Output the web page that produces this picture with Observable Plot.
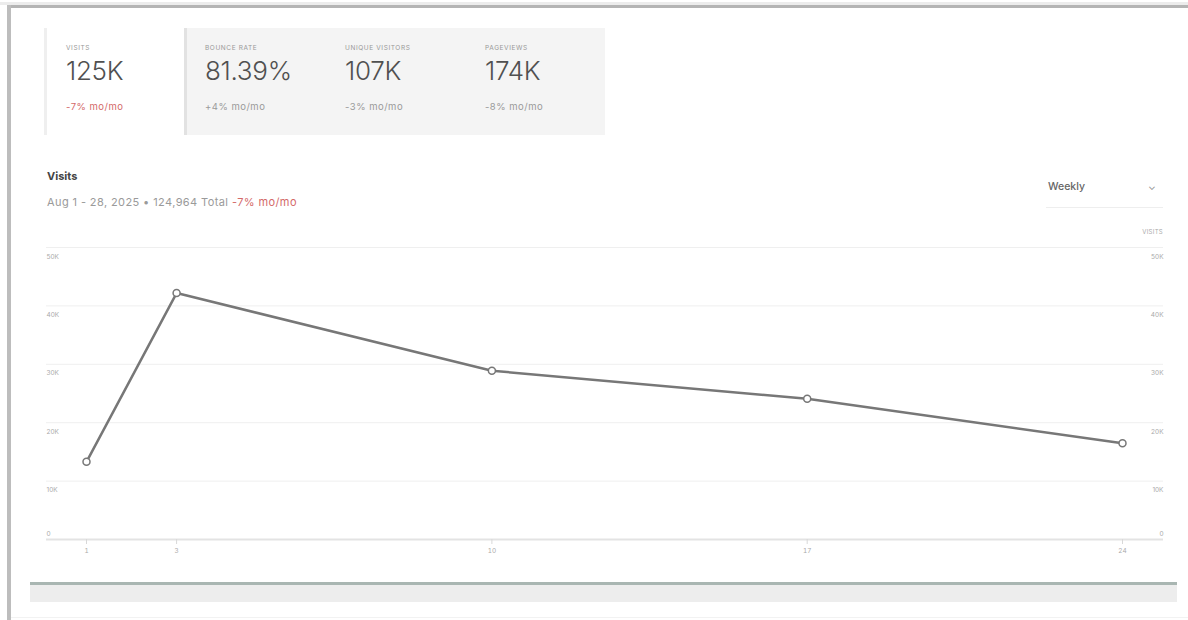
<!DOCTYPE html>
<html>
<head>
<meta charset="utf-8">
<script src="https://cdn.jsdelivr.net/npm/d3@7"></script>
<script src="https://cdn.jsdelivr.net/npm/@observablehq/plot@0.6"></script>
<style>
  html, body { margin: 0; padding: 0; background: #fff; }
  body { width: 1188px; height: 620px; position: relative; overflow: hidden; font-family: Inter, "Noto Sans", sans-serif; color: #555; }
  .frame-top { position: absolute; left: 0; top: 2px; width: 1188px; height: 3px; background: #ececec; }
  .frame-top2 { position: absolute; left: 7px; top: 5px; width: 1181px; height: 3px; background: #b4b4b4; }
  .frame-left { position: absolute; left: 7px; top: 5px; width: 4px; height: 615px; background: #bdbdbd; }
  .cards { position: absolute; left: 44px; top: 28px; height: 107px; display: flex; }
  .card-main { width: 140px; flex-shrink: 0; border-left: 3px solid #efefef; background: #fff; padding-left: 19px; box-sizing: border-box; }
  .card-rest { width: 421px; flex-shrink: 0; background: #f4f4f4; border-left: 3px solid #e2e2e2; display: flex; box-sizing: border-box; padding-left: 18px; }
  .stat { width: 140px; flex-shrink: 0; }
  .stat .lbl { margin-top: 16px; font-size: 6.5px; letter-spacing: 0.6px; color: #999; text-transform: uppercase; height: 8px; line-height: 8px; }
  .stat .val { margin-top: 5px; font-size: 26px; font-weight: 300; color: #505050; line-height: 28px; letter-spacing: -0.3px; }
  .stat .chg { margin-top: 16px; font-size: 9.5px; color: #9a9a9a; line-height: 11px; letter-spacing: 0.5px; }
  .stat .chg.neg { color: #d46a6a; }
  .title { position: absolute; left: 47px; top: 169px; font-size: 11px; font-weight: 700; color: #444; }
  .subtitle { position: absolute; left: 47px; top: 195px; font-size: 11px; color: #9a9a9a; letter-spacing: 0.4px; }
  .subtitle .neg { color: #d46a6a; }
  .period { position: absolute; left: 1048px; top: 180px; font-size: 10.5px; font-weight: 500; color: #666; }
  .chev { position: absolute; left: 1148px; top: 180px; font-size: 10px; color: #888; }
  .period-line { position: absolute; left: 1046px; top: 207px; width: 117px; height: 1px; background: #eee; }
  .ylabel { position: absolute; left: 1125px; width: 38px; text-align: right; top: 228px; font-size: 6px; color: #aaa; letter-spacing: 0.3px; }
  #chart { position: absolute; left: 0; top: 220px; }
  .brush-top { position: absolute; left: 30px; top: 582px; width: 1147px; height: 3px; background: #a9b6b2; }
  .brush-body { position: absolute; left: 30px; top: 585px; width: 1147px; height: 17px; background: #ededed; }
  .foot-line { position: absolute; left: 11px; top: 617px; width: 1177px; height: 1px; background: #f2f2f2; }
</style>
</head>
<body>
<div class="frame-top"></div>
<div class="frame-top2"></div>
<div class="frame-left"></div>

<div class="cards" id="cards"></div>

<div class="title">Visits</div>
<div class="subtitle">Aug 1 - 28, 2025 • 124,964 Total <span class="neg">-7% mo/mo</span></div>
<div class="period">Weekly</div>
<div class="chev">&#8964;</div>
<div class="period-line"></div>
<div class="ylabel">VISITS</div>

<div id="chart"></div>

<div class="brush-top"></div>
<div class="brush-body"></div>
<div class="foot-line"></div>

<script>
// Summary metrics
const statLabels = ["Visits", "Bounce rate", "Unique visitors", "Pageviews"];
const statValues = ["125K", "81.39%", "107K", "174K"];
const statChanges = ["-7% mo/mo", "+4% mo/mo", "-3% mo/mo", "-8% mo/mo"];

// Weekly visits (day of August)
const days = [1, 3, 10, 17, 24];
const visits = [13300, 42200, 28900, 24100, 16500];

// Axis ticks
const yTicks = [0, 10000, 20000, 30000, 40000, 50000];
const xTicks = [1, 3, 10, 17, 24];

// Metric cards
const cards = document.getElementById("cards");
const main = document.createElement("div");
main.className = "card-main";
const rest = document.createElement("div");
rest.className = "card-rest";
statLabels.forEach((label, i) => {
  const s = document.createElement("div");
  s.className = "stat";
  const neg = i === 0;
  s.innerHTML = `<div class="lbl">${label}</div><div class="val">${statValues[i]}</div><div class="chg${neg ? " neg" : ""}">${statChanges[i]}</div>`;
  (i === 0 ? main : rest).appendChild(s);
});
cards.appendChild(main);
cards.appendChild(rest);

const data = days.map((d, i) => ({day: d, visits: visits[i]}));
const fmtK = v => v === 0 ? "0" : `${v / 1000}K`;
const nonZero = yTicks.filter(v => v > 0);
const tickStyle = {fontSize: 6.5, fill: "#aaa"};

const chart = Plot.plot({
  width: 1188,
  height: 350,
  marginTop: 27,
  marginBottom: 31,
  marginLeft: 46,
  marginRight: 25,
  style: {fontFamily: "Inter, 'Noto Sans', sans-serif", background: "transparent"},
  x: {domain: [1, 24], insetLeft: 40, insetRight: 41},
  y: {domain: [0, 50000], axis: null},
  marks: [
    Plot.gridY(nonZero, {stroke: "#efefef", strokeOpacity: 1, strokeWidth: 1}),
    Plot.ruleY([0], {stroke: "#e3e3e3", strokeWidth: 2}),
    // value labels sit just under each grid line, on both sides
    Plot.text(nonZero, {y: d => d, text: fmtK, frameAnchor: "left", textAnchor: "start", dy: 9, ...tickStyle}),
    Plot.text(nonZero, {y: d => d, text: fmtK, frameAnchor: "right", textAnchor: "end", dy: 9, ...tickStyle}),
    Plot.text([0], {y: d => d, text: fmtK, frameAnchor: "left", textAnchor: "start", dy: -6, ...tickStyle}),
    Plot.text([0], {y: d => d, text: fmtK, frameAnchor: "right", textAnchor: "end", dy: -6, ...tickStyle}),
    Plot.axisX(xTicks, {tickSize: 5, tickPadding: 4, fontSize: 6.5, stroke: "#d8d8d8", fill: "#aaa", label: null, tickFormat: d => d}),
    Plot.line(data, {x: "day", y: "visits", stroke: "#777", strokeWidth: 2.5}),
    Plot.dot(data, {x: "day", y: "visits", r: 3.5, fill: "#fff", stroke: "#777", strokeWidth: 1.5})
  ]
});
document.getElementById("chart").appendChild(chart);
</script>
</body>
</html>
